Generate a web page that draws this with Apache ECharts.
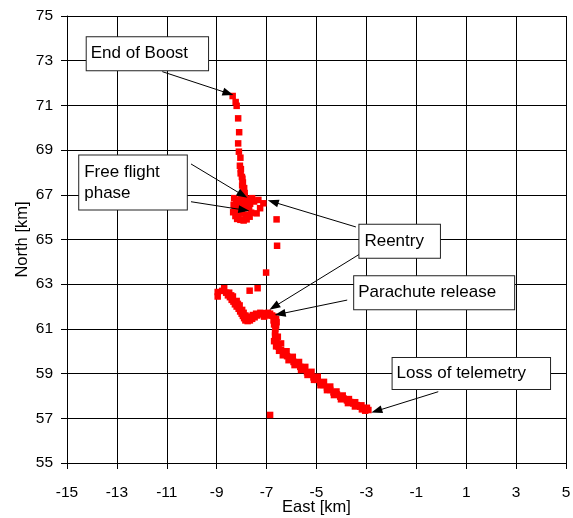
<!DOCTYPE html>
<html>
<head>
<meta charset="utf-8">
<script src="https://cdn.jsdelivr.net/npm/echarts@6/dist/echarts.min.js"></script>
<style>
  html, body { margin: 0; padding: 0; background: #fff; }
  #chart { width: 573px; height: 518px; }
</style>
</head>
<body>
<div id="chart"></div>
<script>
// axis ranges (km)
const xTicks = [-15, -13, -11, -9, -7, -5, -3, -1, 1, 3, 5];
const yTicks = [55, 57, 59, 61, 63, 65, 67, 69, 71, 73, 75];

// track points [east, north]
const boostTrack = [
  [-8.36, 71.42], [-8.24, 71.15], [-8.2, 70.98], [-8.14, 70.42], [-8.1, 69.8],
  [-8.14, 69.3], [-8.11, 68.93], [-8.05, 68.66], [-8.07, 68.3], [-8.03, 68.15],
  [-8.04, 67.96], [-7.99, 67.8], [-7.97, 67.72], [-7.95, 67.55], [-7.98, 67.42],
  [-7.9, 67.3], [-7.93, 67.18], [-7.88, 67.08], [-7.95, 67.0]
];

const freeFlightCluster = [
  [-8.3, 66.85], [-8.22, 66.7], [-8.32, 66.55], [-8.28, 66.4], [-8.34, 66.22],
  [-8.25, 66.05], [-8.18, 65.92], [-8.05, 65.88], [-7.92, 65.85], [-7.8, 65.9],
  [-7.68, 66.02], [-7.62, 66.2], [-7.7, 66.4], [-7.66, 66.6], [-7.75, 66.82],
  [-7.88, 66.95], [-8.02, 66.9], [-8.12, 66.78], [-8.0, 66.6], [-7.9, 66.45],
  [-8.1, 66.35], [-7.98, 66.2], [-7.85, 66.1], [-8.12, 66.15], [-7.8, 66.55],
  [-8.2, 66.5], [-7.95, 66.75], [-7.58, 66.85], [-7.5, 66.7]
];

const strayPoints = [
  [-7.33, 66.77], [-7.13, 66.62], [-7.26, 66.4], [-7.4, 66.17], [-6.6, 65.9],
  [-6.58, 64.72], [-7.02, 63.52], [-7.68, 62.71], [-7.36, 62.82], [-6.86, 57.15]
];

const reentryTrack = [
  [-8.96, 62.65], [-8.96, 62.45], [-8.7, 62.82], [-8.62, 62.62], [-8.55, 62.5],
  [-8.47, 62.42], [-8.4, 62.3], [-8.33, 62.22], [-8.27, 62.1], [-8.2, 62.0],
  [-8.12, 61.9], [-8.06, 61.78], [-8.0, 61.68], [-7.95, 61.58], [-7.9, 61.48],
  [-7.85, 61.38], [-7.76, 61.35], [-7.67, 61.38], [-7.58, 61.45], [-7.48, 61.52],
  [-7.38, 61.6], [-7.28, 61.65], [-7.18, 61.68], [-7.06, 61.7], [-6.95, 61.72],
  [-6.86, 61.68], [-6.78, 61.6], [-6.7, 61.55], [-6.62, 61.45], [-6.6, 61.3],
  [-6.62, 61.15], [-6.65, 61.0], [-6.66, 60.85], [-6.66, 60.7],
  [-8.5, 62.62], [-8.35, 62.45], [-8.2, 62.25], [-8.08, 62.05], [-7.98, 61.85],
  [-7.85, 61.6], [-7.7, 61.55], [-7.55, 61.62], [-7.1, 61.55], [-6.95, 61.6],
  [-8.78, 62.7], [-8.42, 62.5], [-8.15, 62.12], [-7.92, 61.72], [-7.8, 61.45],
  [-7.62, 61.52], [-7.42, 61.68], [-7.25, 61.72], [-6.72, 61.38], [-6.7, 61.2]
];

const descentTrack = [
  [-6.64, 60.55], [-6.6, 60.38], [-6.52, 60.2], [-6.42, 60.05], [-6.3, 59.9],
  [-6.18, 59.78], [-6.05, 59.65], [-5.92, 59.52], [-5.78, 59.42], [-5.65, 59.3],
  [-5.52, 59.18], [-5.38, 59.06], [-5.25, 58.95], [-5.12, 58.83], [-4.98, 58.72],
  [-4.85, 58.6], [-4.72, 58.49], [-4.58, 58.38], [-4.45, 58.27], [-4.32, 58.16],
  [-4.18, 58.07], [-4.05, 57.97], [-3.92, 57.89], [-3.78, 57.8], [-3.65, 57.73],
  [-3.52, 57.66], [-3.38, 57.59], [-3.25, 57.52], [-3.12, 57.46], [-3.0, 57.4],
  [-2.92, 57.37],
  [-6.55, 60.65], [-6.42, 60.35], [-6.2, 60.0], [-5.95, 59.75], [-5.7, 59.52],
  [-5.45, 59.3], [-5.2, 59.08], [-4.95, 58.86], [-4.7, 58.63], [-4.45, 58.42],
  [-4.2, 58.2], [-3.95, 58.02], [-3.7, 57.86], [-3.45, 57.72], [-3.2, 57.58],
  [-2.98, 57.47],
  [-6.7, 60.45], [-6.62, 60.22], [-6.5, 60.02], [-6.35, 59.82], [-6.12, 59.6],
  [-5.88, 59.38], [-5.62, 59.16], [-5.36, 58.94], [-5.1, 58.72], [-4.84, 58.48],
  [-4.58, 58.26], [-4.3, 58.04], [-4.02, 57.85], [-3.74, 57.68], [-3.46, 57.53],
  [-3.18, 57.4], [-3.05, 57.34]
];

// annotations: text, box left-middle anchor, arrow start -> arrow tip (data coords)
const noteTexts = ['End of Boost', 'Free flight\nphase', 'Reentry', 'Parachute release', 'Loss of telemetry'];
const noteAnchors = [[-14.21, 73.31], [-14.51, 67.55], [-3.28, 64.92], [-3.49, 62.62], [-1.95, 59.01]];
const arrowFrom = [[-11.18, 72.51], [-10.03, 68.38], [-10.03, 66.69], [-3.42, 65.56], [-3.28, 64.34], [-3.77, 62.29], [-0.12, 58.19]];
const arrowTo = [[-8.54, 71.54], [-7.96, 66.99], [-7.91, 66.32], [-6.74, 66.68], [-6.70, 61.99], [-6.46, 61.67], [-2.59, 57.33]];

const notePadding = [[6, 20, 6, 4], [6, 27, 6, 5], [6, 16, 6, 5], [6, 18, 6, 4], [5, 24, 5, 4]];

const FONT = "'Liberation Sans', Arial, sans-serif";

const chart = echarts.init(document.getElementById('chart'));

const allPoints = [].concat(boostTrack, freeFlightCluster, strayPoints, reentryTrack, descentTrack);

const option = {
  animation: false,
  backgroundColor: '#fff',
  grid: { left: 67, right: 7, top: 16, bottom: 55, containLabel: false, outerBoundsMode: 'none' },
  xAxis: {
    type: 'value',
    min: xTicks[0],
    max: xTicks[xTicks.length - 1],
    interval: 2,
    name: 'East [km]',
    nameLocation: 'middle',
    nameGap: 36,
    nameMoveOverlap: false,
    nameTextStyle: { fontSize: 16.5, color: '#000', fontFamily: FONT },
    axisLine: { onZero: false, lineStyle: { color: '#000', width: 1 } },
    axisTick: { length: 6, lineStyle: { color: '#000' } },
    axisLabel: { margin: 22, fontSize: 15.5, color: '#000', fontFamily: FONT },
    splitLine: { show: true, lineStyle: { color: '#000', width: 1 } }
  },
  yAxis: {
    type: 'value',
    min: yTicks[0],
    max: yTicks[yTicks.length - 1],
    interval: 2,
    name: 'North [km]',
    nameLocation: 'middle',
    nameRotate: 90,
    nameGap: 36,
    nameMoveOverlap: false,
    nameTextStyle: { fontSize: 16.5, color: '#000', fontFamily: FONT },
    axisLine: { show: true, onZero: false, lineStyle: { color: '#000', width: 1 } },
    axisTick: { show: true, length: 6, lineStyle: { color: '#000' } },
    axisLabel: { margin: 14, fontSize: 15.5, color: '#000', fontFamily: FONT },
    splitLine: { show: true, lineStyle: { color: '#000', width: 1 } }
  },
  series: [{
    type: 'scatter',
    symbol: 'rect',
    symbolSize: 6.5,
    itemStyle: { color: '#ff0000', opacity: 1 },
    data: allPoints,
    markLine: {
      silent: true,
      symbol: ['none', 'triangle'],
      symbolSize: [8, 11],
      label: { show: false },
      lineStyle: { color: '#000', width: 1, type: 'solid' },
      emphasis: { disabled: true },
      data: arrowFrom.map((s, i) => [{ coord: s }, { coord: arrowTo[i] }])
    },
    markPoint: {
      silent: true,
      symbol: 'rect',
      symbolSize: 1,
      itemStyle: { color: 'rgba(0,0,0,0)' },
      label: {
        show: true,
        position: 'inside',
        color: '#000',
        fontSize: 17,
        fontFamily: FONT,
        lineHeight: 21,
        backgroundColor: '#fff',
        borderColor: '#222',
        borderWidth: 1
      },
      data: noteTexts.map((t, i) => ({
        coord: noteAnchors[i],
        value: t,
        label: { formatter: t, padding: notePadding[i], align: 'left' }
      }))
    }
  }]
};

chart.setOption(option);
</script>
</body>
</html>
